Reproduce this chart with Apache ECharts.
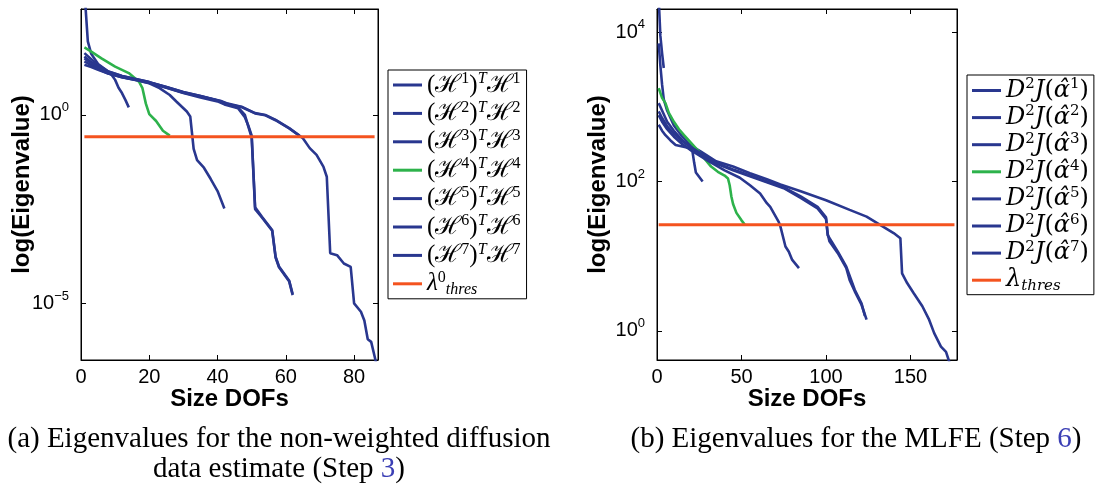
<!DOCTYPE html>
<html><head><meta charset="utf-8">
<script src="https://cdn.jsdelivr.net/npm/echarts@6/dist/echarts.min.js"></script>
<style>html,body{margin:0;padding:0;background:#fff}#c{width:1102px;height:486px}</style>
</head><body><div id="c"></div>
<script>
// ---------- DATA (x = Size DOFs, y = log10(eigenvalue)) ----------
// Panel (a)
const dofH1 = [1,3,5,7,9,10,11,12,13,14];
const logH1 = [1.55,1.40,1.28,1.18,1.06,0.93,0.72,0.58,0.40,0.20];
const dofH2 = [1,2,3,5,8,12,16,20,25,30,35,40,43,46,48,49,50,51,53,56,57,58,61,62];
const logH2 = [3.3,1.95,1.62,1.35,1.15,1.03,0.95,0.87,0.74,0.61,0.50,0.38,0.29,0.20,0.0,-0.3,-0.6,-2.5,-2.72,-3.07,-3.78,-4.04,-4.42,-4.78];
const dofH3 = [1,3,5,8,12,16,20,23,26,28,31,32,33,34,36,38,40,42];
const logH3 = [1.42,1.32,1.22,1.10,1.00,0.93,0.84,0.71,0.53,0.35,0.09,-0.04,-0.9,-1.2,-1.4,-1.7,-2.02,-2.48];
const dofH4 = [1,3,6,10,14,17,18,19,20,22,24,26];
const logH4 = [1.79,1.68,1.50,1.28,1.11,0.88,0.71,0.30,0.02,-0.16,-0.42,-0.55];
const dofH5 = [1,3,5,8,12,16,20,25,30,35,40,42,46,48,49,50,51,53,56,57,58,61,62];
const logH5 = [1.33,1.27,1.20,1.10,1.00,0.93,0.85,0.72,0.58,0.46,0.36,0.28,0.18,-0.06,-0.28,-0.55,-2.45,-2.7,-3.05,-3.76,-4.02,-4.4,-4.75];
const dofH6 = [1,3,5,8,12,16,20,25,30,35,41,43,47,51,54,57,61,65,67,69,71,72,73,75,77,79,80,82,83,84,85,86,87];
const logH6 = [1.64,1.48,1.32,1.15,1.03,0.95,0.87,0.74,0.60,0.50,0.37,0.30,0.22,0.05,0.0,-0.13,-0.35,-0.62,-0.88,-1.06,-1.37,-1.64,-3.67,-3.72,-3.94,-4.03,-5.0,-5.22,-5.45,-5.95,-6.02,-6.4,-6.8];
const dofH7 = [1,3,5,8,12,16,20,25,30,35,41,43,47,51,54,57,61,64];
const logH7 = [1.50,1.38,1.25,1.12,1.01,0.94,0.86,0.73,0.59,0.49,0.36,0.28,0.21,0.04,-0.01,-0.14,-0.36,-0.55];
const dofThrA = [1,86];
const logThrA = [-0.576,-0.576];

// Panel (b)
const dofD1 = [1,2,3,4];
const logD1 = [4.45,3.95,3.72,3.52];
const dofD2 = [1,3,5,8,11,15,19,21,22,23,25,27];
const logD2 = [2.76,2.68,2.62,2.55,2.49,2.47,2.45,2.40,2.25,2.12,2.06,2.0];
const dofD3 = [1,2,3,4,6,10,15,20,26,35,45,55,65,73,85,100,114,124,132,140,144,145,148,152,157,161,164,168,171,173];
const logD3 = [3.85,3.55,3.30,3.10,2.95,2.75,2.60,2.48,2.40,2.27,2.20,2.11,2.03,1.96,1.87,1.75,1.62,1.53,1.42,1.31,1.24,0.77,0.64,0.50,0.33,0.15,-0.03,-0.21,-0.28,-0.42];
const dofD4 = [1,3,5,7,10,13,16,20,24,28,32,36,40,42,43,44,45,47,50,52];
const logD4 = [3.25,3.12,3.05,2.92,2.80,2.70,2.62,2.52,2.42,2.31,2.20,2.13,2.08,2.04,1.95,1.80,1.70,1.58,1.48,1.42];
const dofD5 = [1,3,6,10,15,20,25,35,45,55,65,75,85,95,100,101,102,107,112,114,117,121,124];
const logD5 = [3.05,2.95,2.80,2.68,2.55,2.46,2.38,2.24,2.15,2.07,1.99,1.91,1.78,1.64,1.50,1.30,1.20,1.04,0.84,0.68,0.53,0.35,0.15];
const dofD6 = [1,3,6,10,15,20,25,30,40,49,55,61,65,67,72,73,75,76,78,80,84];
const logD6 = [2.89,2.80,2.70,2.60,2.50,2.42,2.35,2.28,2.15,2.05,1.95,1.84,1.71,1.66,1.46,1.40,1.22,1.13,1.06,0.95,0.84];
const dofD7 = [1,3,6,10,15,20,25,35,45,55,65,75,85,95,100,101,107,112,117,121,123];
const logD7 = [2.94,2.85,2.74,2.64,2.54,2.46,2.39,2.25,2.16,2.08,2.00,1.92,1.80,1.66,1.52,1.28,1.06,0.86,0.55,0.37,0.20];
const dofThrB = [1,176];
const logThrB = [1.42,1.42];

// Ticks / labels
const xTicksA = [0,20,40,60,80];
const yTicksA = [-5,0];
const xTicksB = [0,50,100,150];
const yTicksB = [0,2,4];

const namesA = ['H1','H2','H3','H4','H5','H6','H7','lambda0'];
const namesB = ['D1','D2','D3','D4','D5','D6','D7','lambda'];

const captionA = '(a) Eigenvalues for the non-weighted diffusion\ndata estimate (Step {l|3})';
const captionB = '(b) Eigenvalues for the MLFE (Step {l|6})';

// ---------- STYLE ----------
const NAVY = '#29378f', GREEN = '#2db24b', RED = '#f4531f';
const SANS = "'Liberation Sans', Arial, sans-serif";
const SERIF = "'Liberation Serif', 'DejaVu Serif', serif";
const SERIF2 = "'DejaVu Serif', serif";

function pairs(xs, ys){ return xs.map((x,i)=>[x, ys[i]]); }

const legendText = {};
[1,2,3,4,5,6,7].forEach(k=>{
  legendText['H'+k] = '{t|(}{t|ℋ}{s|'+k+'}{t|)}{si|T}{t|ℋ}{s|'+k+'}';
  legendText['D'+k] = '{ti|D}{s|2}{ti|J}{t|(}{ti|α\u0302}{s|'+k+'}{t|)}';
});
legendText['lambda0'] = '{ti|λ}{s|0}{sub|thres}';
legendText['lambda'] = '{ti|λ}{sub|thres}';

function richLegend(lh, fam, fs, ss){
  return {
    t:{fontSize:fs, lineHeight:lh, fontFamily:fam, color:'#000'},
    ti:{fontSize:fs, lineHeight:lh, fontFamily:fam, fontStyle:'italic', color:'#000'},
    s:{fontSize:ss, lineHeight:ss, fontFamily:fam, verticalAlign:'top', color:'#000'},
    si:{fontSize:ss, lineHeight:ss, fontFamily:fam, fontStyle:'italic', verticalAlign:'top', color:'#000'},
    sub:{fontSize:ss, lineHeight:ss, fontFamily:fam, fontStyle:'italic', verticalAlign:'bottom', color:'#000'}
  };
}

function xAxisPair(grid, max, ticks){
  const common = {gridIndex:grid, type:'value', min:0, max:max, splitLine:{show:false},
    axisLine:{show:true, onZero:false, lineStyle:{color:'#000', width:1}},
    axisTick:{show:true, inside:true, length:5, customValues:ticks, lineStyle:{color:'#000'}}};
  return [
    Object.assign({}, common, {position:'bottom',
      axisLabel:{show:true, customValues:ticks, fontSize:20, fontFamily:SANS, color:'#000', margin:7},
      name:'Size DOFs', nameLocation:'middle', nameGap:27, nameMoveOverlap:false,
      nameTextStyle:{fontSize:24, fontWeight:'bold', fontFamily:SANS, color:'#000'}}),
    Object.assign({}, common, {position:'top', axisLabel:{show:false}})
  ];
}
function yAxisPair(grid, min, max, ticks){
  const common = {gridIndex:grid, type:'value', min:min, max:max, splitLine:{show:false},
    axisLine:{show:true, onZero:false, lineStyle:{color:'#000', width:1}},
    axisTick:{show:true, inside:true, length:5, customValues:ticks, lineStyle:{color:'#000'}}};
  return [
    Object.assign({}, common, {position:'left',
      axisLabel:{show:true, customValues:ticks, margin:12,
        formatter: v => '{b|10}{e|' + (v < 0 ? '\u2212' + (-v) : v) + '}',
        rich:{b:{fontSize:20, lineHeight:28, fontFamily:SANS, color:'#000'},
              e:{fontSize:13, lineHeight:13, fontFamily:SANS, color:'#000', verticalAlign:'top'}}},
      name:'log(Eigenvalue)', nameLocation:'middle', nameGap:47, nameMoveOverlap:false,
      nameTextStyle:{fontSize:24, fontWeight:'bold', fontFamily:SANS, color:'#000'}}),
    Object.assign({}, common, {position:'right', axisLabel:{show:false}})
  ];
}

function line(name, xs, ys, color, xi, yi, w){
  return {name:name, type:'line', xAxisIndex:xi, yAxisIndex:yi, data:pairs(xs, ys),
    showSymbol:false, symbol:'none', silent:true, clip:true,
    lineStyle:{color:color, width:w||2.6}, itemStyle:{color:color}};
}

const series = [
  line('H1', dofH1, logH1, NAVY, 0, 0),
  line('H2', dofH2, logH2, NAVY, 0, 0),
  line('H3', dofH3, logH3, NAVY, 0, 0),
  line('H4', dofH4, logH4, GREEN, 0, 0),
  line('H5', dofH5, logH5, NAVY, 0, 0),
  line('H6', dofH6, logH6, NAVY, 0, 0),
  line('H7', dofH7, logH7, NAVY, 0, 0),
  line('lambda0', dofThrA, logThrA, RED, 0, 0, 3),
  line('D1', dofD1, logD1, NAVY, 2, 2),
  line('D2', dofD2, logD2, NAVY, 2, 2),
  line('D3', dofD3, logD3, NAVY, 2, 2),
  line('D4', dofD4, logD4, GREEN, 2, 2),
  line('D5', dofD5, logD5, NAVY, 2, 2),
  line('D6', dofD6, logD6, NAVY, 2, 2),
  line('D7', dofD7, logD7, NAVY, 2, 2),
  line('lambda', dofThrB, logThrB, RED, 2, 2, 3)
];

function legend(names, left, top, lh, gap, pad, fam, fs, ss){
  return {data:names, orient:'vertical', left:left, top:top, selectedMode:false,
    icon:'rect', itemWidth:29, itemHeight:3, itemGap:gap, padding:pad,
    borderColor:'#000', borderWidth:1, backgroundColor:'#fff',
    formatter: n => legendText[n],
    textStyle:{color:'#000', fontFamily:fam, fontSize:fs, lineHeight:lh, height:lh, rich:richLegend(lh, fam, fs, ss)}};
}

const captionRich = {
  l:{fill:'#3b3fb5', color:'#3b3fb5', fontSize:29, fontFamily:SERIF}
};

const option = {
  animation:false,
  backgroundColor:'#fff',
  grid:[
    {left:81, top:9, width:297, height:351, show:true, borderColor:'#000', borderWidth:1, backgroundColor:'transparent'},
    {left:657, top:9, width:300, height:351, show:true, borderColor:'#000', borderWidth:1, backgroundColor:'transparent'}
  ],
  xAxis: [...xAxisPair(0, 87, xTicksA), ...xAxisPair(1, 177.5, xTicksB)],
  yAxis: [...yAxisPair(0, -6.5, 2.81, yTicksA), ...yAxisPair(1, -0.39, 4.31, yTicksB)],
  legend:[
    legend(namesA, 388, 70, 28, 0.4, [1,6,1,5], SERIF, 25, 16),
    legend(namesB, 967, 75, 27, 0.1, [2,5,1,5], SERIF2, 24, 15)
  ],
  series: series,
  graphic:[
    {type:'text', x:279, y:424, silent:true, style:{text:captionA, fontSize:29, fontFamily:SERIF, fill:'#000',
      align:'center', verticalAlign:'top', textAlign:'center', lineHeight:30, rich:captionRich}},
    {type:'text', x:856, y:424, silent:true, style:{text:captionB, fontSize:29, fontFamily:SERIF, fill:'#000',
      align:'center', verticalAlign:'top', textAlign:'center', lineHeight:30, rich:captionRich}}
  ]
};

const chart = echarts.init(document.getElementById('c'), null, {renderer:'canvas'});
chart.setOption(option);
</script></body></html>
